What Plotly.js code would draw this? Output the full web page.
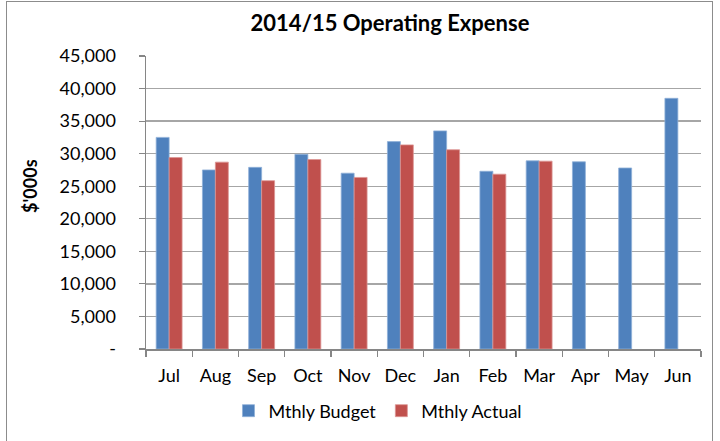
<!DOCTYPE html>
<html>
<head>
<meta charset="utf-8">
<script src="https://cdn.plot.ly/plotly-3.0.1.min.js"></script>
<style>
  html, body { margin: 0; padding: 0; background: #fff; }
  #frame { position: absolute; left: 6px; top: 1px; width: 707px; height: 460px; border: 1.5px solid #8c8c8c; box-sizing: border-box; pointer-events: none; }
  #chart { position: absolute; left: 0; top: 0; width: 720px; height: 441px; }
</style>
</head>
<body>
<div id="chart"></div>
<div id="frame"></div>
<script>
const months = ["Jul","Aug","Sep","Oct","Nov","Dec","Jan","Feb","Mar","Apr","May","Jun"];
const budget = [32500, 27500, 27900, 29900, 27000, 31850, 33500, 27300, 28900, 28750, 27800, 38500];
const actual = [29400, 28700, 25850, 29100, 26350, 31350, 30600, 26850, 28850, null, null, null];
const yTickVals = [0, 5000, 10000, 15000, 20000, 25000, 30000, 35000, 40000, 45000];
const yTickText = ["-", "5,000", "10,000", "15,000", "20,000", "25,000", "30,000", "35,000", "40,000", "45,000"];

const FONT = "Lato, 'Open Sans', sans-serif";

const traces = [
  { type: "bar", name: "Mthly Budget", x: months, y: budget,
    marker: { color: "#4F81BD", line: { color: "#8fb0d8", width: 0.8 } } },
  { type: "bar", name: "Mthly Actual", x: months, y: actual,
    marker: { color: "#C0504D", line: { color: "#dc9694", width: 0.8 } } }
];

const layout = {
  width: 720, height: 441,
  paper_bgcolor: "#ffffff", plot_bgcolor: "#ffffff",
  margin: { l: 146, r: 19, t: 56, b: 89.5, pad: 0 },
  font: { family: FONT, size: 18, color: "#000" },
  title: { text: "<b>2014/15 Operating Expense</b>", font: { family: FONT, size: 22, color: "#000" },
           x: 390 / 720, xref: "container", xanchor: "center", y: 1 - 23 / 441, yref: "container", yanchor: "middle" },
  barmode: "group", bargap: 0.44, bargroupgap: 0,
  showlegend: true,
  legend: { orientation: "h", x: 0.418, xanchor: "center", y: (351.5 - 414) / 295.5, yanchor: "middle",
            font: { family: FONT, size: 18, color: "#000" }, itemwidth: 30, traceorder: "normal" },
  xaxis: { type: "category", showline: true, linecolor: "#868686", linewidth: 1.5,
           ticks: "outside", tickson: "boundaries", ticklen: 6, tickcolor: "#868686", tickwidth: 1.2,
           showgrid: false, tickfont: { family: FONT, size: 18, color: "#000" }, ticklabelstandoff: 10 },
  yaxis: { range: [0, 45000], tickvals: yTickVals, ticktext: yTickText,
           showline: true, linecolor: "#868686", linewidth: 1.5,
           ticks: "outside", ticklen: 6, tickcolor: "#868686", tickwidth: 1.2,
           showgrid: true, gridcolor: "#a6a6a6", gridwidth: 1.3, zeroline: false,
           tickfont: { family: FONT, size: 18, color: "#000" }, ticklabelstandoff: 19 },
  annotations: [
    { text: "<b>$'000s</b>", textangle: -90, xref: "paper", yref: "paper",
      x: (30 - 146) / 555, y: (351.5 - 187) / 295.5, xanchor: "center", yanchor: "middle",
      showarrow: false, font: { family: FONT, size: 18, color: "#000" } }
  ]
};

Plotly.newPlot("chart", traces, layout, { displayModeBar: false, staticPlot: true });
</script>
</body>
</html>
